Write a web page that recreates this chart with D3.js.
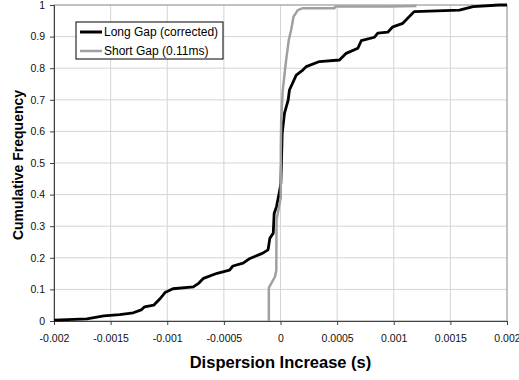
<!DOCTYPE html>
<html>
<head>
<meta charset="utf-8">
<script src="https://cdn.jsdelivr.net/npm/d3@7"></script>
<style>
  body { margin: 0; background: #fff; }
  svg { font-family: "Liberation Sans", Arial, sans-serif; }
</style>
</head>
<body>
<div id="container"></div>
<script>
// Long Gap (corrected) CDF points
const longGapX = [-0.002, -0.00171, -0.00156, -0.00142, -0.0013, -0.00123, -0.0012, -0.00112, -0.00106, -0.00102,
  -0.00095, -0.00077, -0.00072, -0.00068, -0.00056, -0.00045, -0.00042, -0.00033, -0.00027, -0.00016,
  -0.00011, -0.000094, -0.000064, -0.000056, -0.000035, -0.000006, 0.000003, 0.000008, 0.000015, 0.000035,
  0.000068, 0.000079, 0.000139, 0.000197, 0.000227, 0.000344, 0.000521, 0.00058, 0.000683, 0.000713,
  0.00083, 0.000859, 0.000947, 0.000992, 0.00108, 0.00118, 0.00158, 0.0017, 0.00193, 0.002];
const longGapY = [0.003, 0.007, 0.016, 0.02, 0.026, 0.035, 0.045, 0.05, 0.072, 0.09,
  0.102, 0.108, 0.12, 0.135, 0.151, 0.161, 0.174, 0.183, 0.198, 0.214,
  0.225, 0.262, 0.278, 0.34, 0.362, 0.415, 0.436, 0.5, 0.594, 0.657,
  0.70, 0.731, 0.778, 0.794, 0.805, 0.821, 0.826, 0.847, 0.863, 0.887,
  0.898, 0.911, 0.914, 0.931, 0.942, 0.979, 0.984, 0.995, 1.0, 1.0];

// Short Gap (0.11ms) CDF points
const shortGapX = [-0.000103, -0.000103, -0.000049, -0.000037, -0.000035, 0.000002, 0.000003, 0.000006, 0.00002, 0.00005,
  0.000073, 0.000094, 0.000115, 0.000153, 0.000197, 0.000477, 0.000485, 0.000962, 0.0012];
const shortGapY = [0, 0.105, 0.14, 0.16, 0.32, 0.39, 0.55, 0.636, 0.731, 0.826,
  0.889, 0.921, 0.963, 0.984, 0.99, 0.99, 0.995, 0.995, 0.997];

const xTicks = [-0.002, -0.0015, -0.001, -0.0005, 0, 0.0005, 0.001, 0.0015, 0.002];
const xTickLabels = ['-0.002', '-0.0015', '-0.001', '-0.0005', '0', '0.0005', '0.001', '0.0015', '0.002'];
const yTicks = [0, 0.1, 0.2, 0.3, 0.4, 0.5, 0.6, 0.7, 0.8, 0.9, 1];
const yTickLabels = ['0', '0.1', '0.2', '0.3', '0.4', '0.5', '0.6', '0.7', '0.8', '0.9', '1'];

const seriesNames = ['Long Gap (corrected)', 'Short Gap (0.11ms)'];
const seriesColors = ['#000000', '#a0a0a0'];

const width = 519, height = 380;
const margin = { left: 54, right: 12, top: 5, bottom: 59 };

const svg = d3.select('#container').append('svg')
  .attr('width', width)
  .attr('height', height);

const x = d3.scaleLinear().domain([-0.002, 0.002]).range([margin.left, width - margin.right]);
const y = d3.scaleLinear().domain([0, 1]).range([height - margin.bottom, margin.top]);

// gridlines
svg.append('g').selectAll('line.gx')
  .data(xTicks.slice(1))
  .enter().append('line')
  .attr('x1', d => x(d)).attr('x2', d => x(d))
  .attr('y1', y(0)).attr('y2', y(1))
  .attr('stroke', '#d4d4d4').attr('stroke-width', 1);

svg.append('g').selectAll('line.gy')
  .data(yTicks.slice(1))
  .enter().append('line')
  .attr('x1', x(-0.002)).attr('x2', x(0.002))
  .attr('y1', d => y(d)).attr('y2', d => y(d))
  .attr('stroke', '#d4d4d4').attr('stroke-width', 1);

// plot border (right/top)
svg.append('rect')
  .attr('x', x(-0.002)).attr('y', y(1))
  .attr('width', x(0.002) - x(-0.002)).attr('height', y(0) - y(1))
  .attr('fill', 'none').attr('stroke', '#9a9a9a');

// axes
const xAxis = svg.append('g')
  .attr('transform', `translate(0,${y(0)})`)
  .call(d3.axisBottom(x).tickValues(xTicks).tickFormat((d, i) => xTickLabels[i]).tickSizeOuter(0).tickSize(4).tickPadding(10));
const yAxis = svg.append('g')
  .attr('transform', `translate(${x(-0.002)},0)`)
  .call(d3.axisLeft(y).tickValues(yTicks).tickFormat((d, i) => yTickLabels[i]).tickSizeOuter(0).tickSize(4).tickPadding(5));

[xAxis, yAxis].forEach(a => {
  a.select('.domain').attr('stroke', '#404040');
  a.selectAll('.tick line').attr('stroke', '#404040');
  a.selectAll('.tick text').attr('fill', '#111').style('font-size', '10.5px').style('font-family', '"Liberation Sans", Arial, sans-serif');
});

// lines
const line = d3.line().x(d => x(d[0])).y(d => y(d[1]));
const longData = longGapX.map((v, i) => [v, longGapY[i]]);
const shortData = shortGapX.map((v, i) => [v, shortGapY[i]]);

svg.append('path')
  .datum(longData)
  .attr('d', line)
  .attr('fill', 'none')
  .attr('stroke', seriesColors[0])
  .attr('stroke-width', 2.8)
  .attr('stroke-linejoin', 'round');

svg.append('path')
  .datum(shortData)
  .attr('d', line)
  .attr('fill', 'none')
  .attr('stroke', seriesColors[1])
  .attr('stroke-width', 2.5)
  .attr('stroke-linejoin', 'round');

// axis titles
svg.append('text')
  .attr('x', (x(-0.002) + x(0.002)) / 2)
  .attr('y', 368)
  .attr('text-anchor', 'middle')
  .style('font-size', '16.5px')
  .style('font-weight', 'bold')
  .text('Dispersion Increase (s)');

svg.append('text')
  .attr('transform', `translate(23,165) rotate(-90)`)
  .attr('text-anchor', 'middle')
  .style('font-size', '14px')
  .style('font-weight', 'bold')
  .text('Cumulative Frequency');

// legend
const legend = svg.append('g').attr('transform', 'translate(76,22)');
legend.append('rect')
  .attr('width', 147).attr('height', 37)
  .attr('fill', '#fff').attr('stroke', '#000').attr('stroke-width', 1);

seriesNames.forEach((name, i) => {
  const ly = 10 + i * 19;
  legend.append('line')
    .attr('x1', 4).attr('x2', 26)
    .attr('y1', ly).attr('y2', ly)
    .attr('stroke', seriesColors[i])
    .attr('stroke-width', i === 0 ? 3 : 2.5);
  legend.append('text')
    .attr('x', 28).attr('y', ly + 4)
    .style('font-size', '12px')
    .text(name);
});
</script>
</body>
</html>
